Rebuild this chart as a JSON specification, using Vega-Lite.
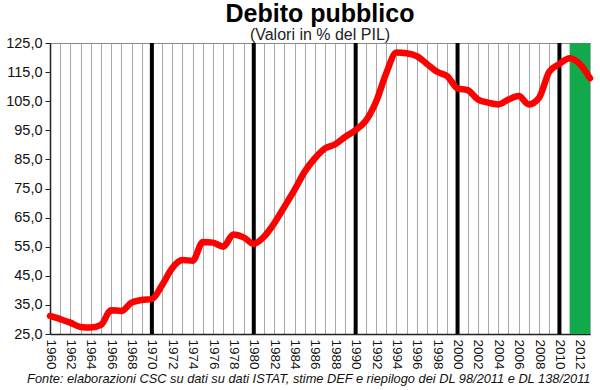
{
  "$schema": "https://vega.github.io/schema/vega-lite/v6.json",
  "autosize": "none",
  "width": 540,
  "height": 291,
  "padding": {"left": 50, "top": 43, "right": 10, "bottom": 56},
  "background": "white",
  "config": {
    "font": "Liberation Sans",
    "view": {"stroke": "#888888", "strokeWidth": 1}
  },
  "title": {
    "text": "Debito pubblico",
    "subtitle": "(Valori in % del PIL)",
    "anchor": "middle",
    "font": "Liberation Sans",
    "fontSize": 25,
    "fontWeight": "bold",
    "color": "black",
    "subtitleFont": "Liberation Sans",
    "subtitleFontSize": 16,
    "subtitleColor": "#222222",
    "subtitlePadding": 0,
    "offset": -8
  },
  "datasets": {
    "debt": [
      {"year": 1960, "value": 31.2}, {"year": 1961, "value": 30.1}, {"year": 1962, "value": 28.9},
      {"year": 1963, "value": 27.4}, {"year": 1964, "value": 27.2}, {"year": 1965, "value": 28.1},
      {"year": 1966, "value": 33.2}, {"year": 1967, "value": 32.9}, {"year": 1968, "value": 35.8},
      {"year": 1969, "value": 36.7}, {"year": 1970, "value": 37.0}, {"year": 1971, "value": 41.8},
      {"year": 1972, "value": 47.7}, {"year": 1973, "value": 50.4}, {"year": 1974, "value": 50.2},
      {"year": 1975, "value": 56.6}, {"year": 1976, "value": 56.4}, {"year": 1977, "value": 55.0},
      {"year": 1978, "value": 59.2}, {"year": 1979, "value": 58.2}, {"year": 1980, "value": 56.0},
      {"year": 1981, "value": 58.4}, {"year": 1982, "value": 63.0}, {"year": 1983, "value": 68.7},
      {"year": 1984, "value": 74.5}, {"year": 1985, "value": 80.8}, {"year": 1986, "value": 85.4},
      {"year": 1987, "value": 88.8}, {"year": 1988, "value": 90.2}, {"year": 1989, "value": 92.8},
      {"year": 1990, "value": 95.1}, {"year": 1991, "value": 98.3}, {"year": 1992, "value": 104.8},
      {"year": 1993, "value": 114.6}, {"year": 1994, "value": 121.7}, {"year": 1995, "value": 121.5},
      {"year": 1996, "value": 120.5}, {"year": 1997, "value": 117.8}, {"year": 1998, "value": 115.1},
      {"year": 1999, "value": 113.6}, {"year": 2000, "value": 109.4}, {"year": 2001, "value": 108.8},
      {"year": 2002, "value": 105.6}, {"year": 2003, "value": 104.5}, {"year": 2004, "value": 103.9},
      {"year": 2005, "value": 105.6}, {"year": 2006, "value": 106.8}, {"year": 2007, "value": 103.9},
      {"year": 2008, "value": 106.2}, {"year": 2009, "value": 115.1}, {"year": 2010, "value": 117.8},
      {"year": 2011, "value": 119.8}, {"year": 2012, "value": 117.8}, {"year": 2013, "value": 112.9}
    ],
    "band": [{"start": 2011, "end": 2013}],
    "decades": [{"year": 1970}, {"year": 1980}, {"year": 1990}, {"year": 2000}, {"year": 2010}]
  },
  "layer": [
    {
      "data": {"name": "band"},
      "mark": {"type": "rect", "color": "#12a84c"},
      "encoding": {
        "x": {
          "field": "start", "type": "quantitative",
          "scale": {"domain": [1960, 2013], "nice": false, "zero": false},
          "axis": {
            "values": [1960,1961,1962,1963,1964,1965,1966,1967,1968,1969,1970,1971,1972,1973,1974,1975,1976,1977,1978,1979,1980,1981,1982,1983,1984,1985,1986,1987,1988,1989,1990,1991,1992,1993,1994,1995,1996,1997,1998,1999,2000,2001,2002,2003,2004,2005,2006,2007,2008,2009,2010,2011,2012,2013],
            "tickCount": 100,
            "labelExpr": "datum.value % 2 == 0 && datum.value < 2013 ? datum.label : ''",
            "format": "d",
            "labelAngle": 90,
            "labelOverlap": false,
            "labelFontSize": 13.5,
            "labelColor": "#111111",
            "labelPadding": 5,
            "grid": true,
            "gridColor": "#a8a8a8",
            "gridWidth": 1,
            "gridOpacity": 1,
            "ticks": false,
            "domainColor": "#222222",
            "domainWidth": 1.5,
            "title": "Fonte: elaborazioni CSC su dati su dati ISTAT, stime DEF e riepilogo dei DL 98/2011 e DL 138/2011",
            "titleFontStyle": "italic",
            "titleFontWeight": "normal",
            "titleFontSize": 12.8,
            "titleColor": "#111111",
            "titleAnchor": "end",
            "titlePadding": 3
          }
        },
        "x2": {"field": "end"},
        "y": {"datum": 25, "type": "quantitative"},
        "y2": {"datum": 125}
      }
    },
    {
      "data": {"name": "decades"},
      "mark": {"type": "rule", "color": "black", "strokeWidth": 4},
      "encoding": {
        "x": {"field": "year", "type": "quantitative"},
        "y": {"datum": 25, "type": "quantitative"},
        "y2": {"datum": 125}
      }
    },
    {
      "data": {"name": "debt"},
      "mark": {"type": "line", "color": "#ff0000", "strokeWidth": 6.5, "interpolate": "monotone", "strokeCap": "round", "strokeJoin": "round"},
      "encoding": {
        "x": {"field": "year", "type": "quantitative"},
        "y": {
          "field": "value", "type": "quantitative",
          "scale": {"domain": [25, 125], "nice": false, "zero": false},
          "axis": {
            "values": [25,35,45,55,65,75,85,95,105,115,125],
            "tickCount": 20,
            "labelExpr": "replace(format(datum.value, '.1f'), '.', ',')",
            "labelOverlap": false,
            "labelFontSize": 14.5,
            "labelColor": "#111111",
            "labelPadding": 3,
            "grid": false,
            "tickSize": 5,
            "tickColor": "#222222",
            "domainColor": "#222222",
            "domainWidth": 1.5,
            "title": null
          }
        }
      }
    }
  ]
}
